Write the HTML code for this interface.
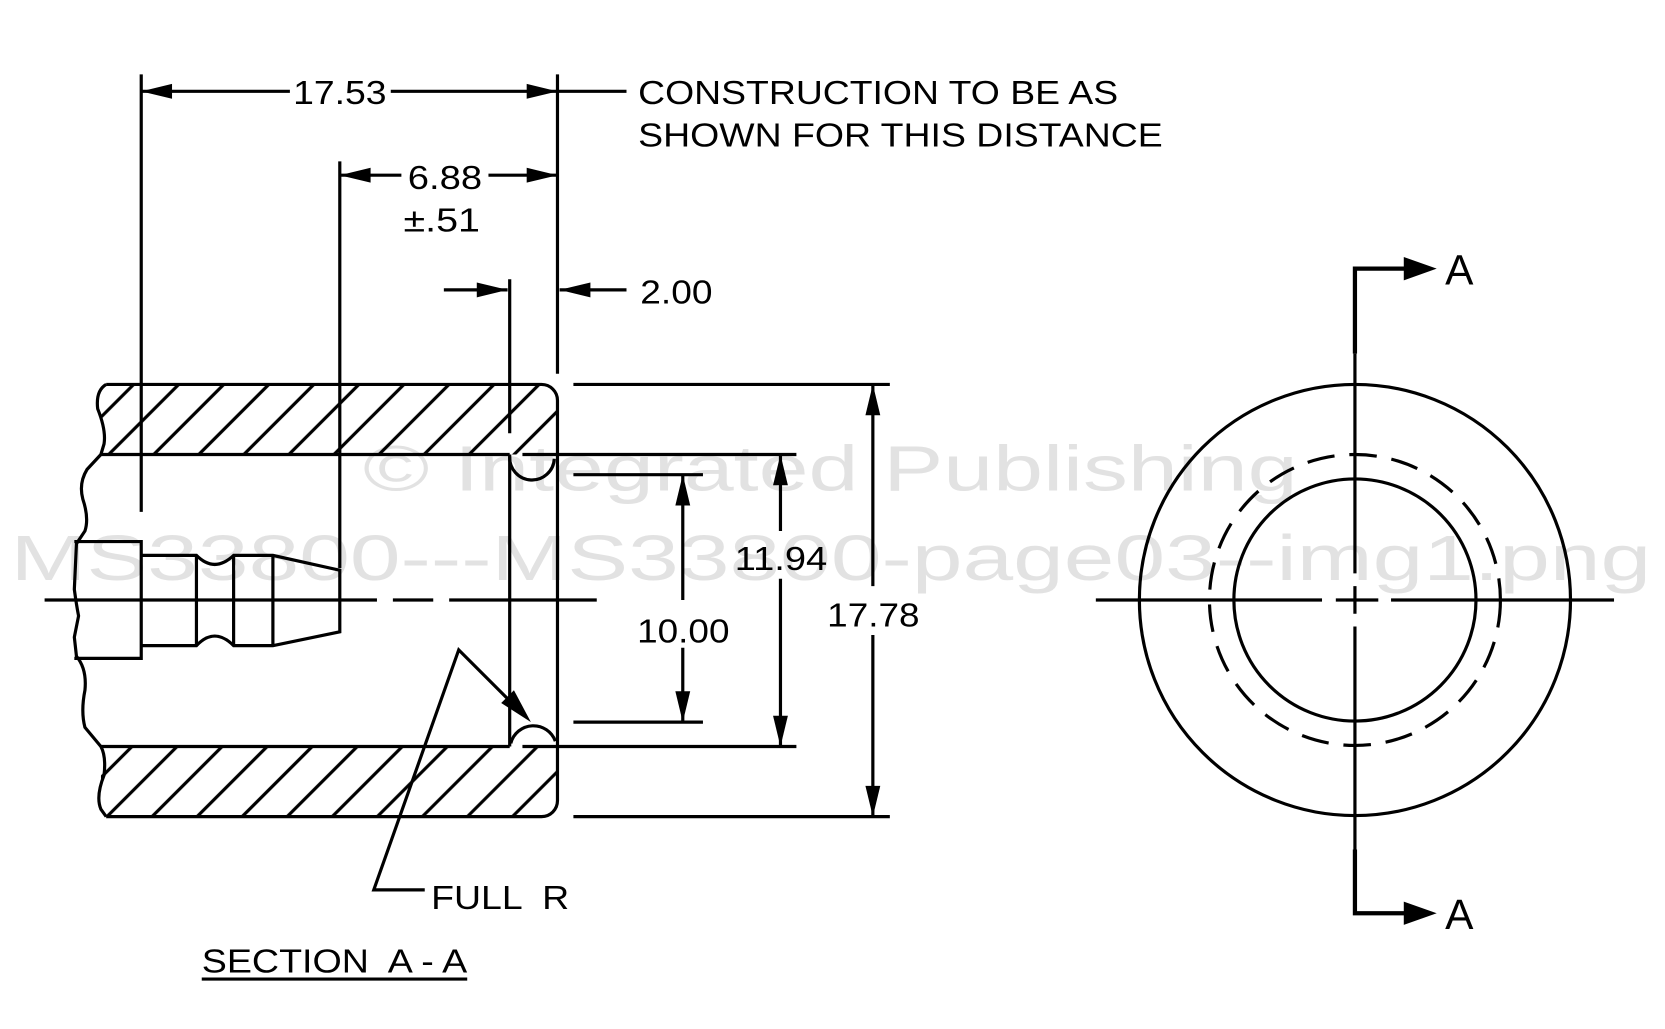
<!DOCTYPE html>
<html><head><meta charset="utf-8"><style>
html,body{margin:0;padding:0;background:#fff;}
svg{display:block;}
text{font-family:"Liberation Sans",sans-serif;}
</style></head><body>
<svg width="1665" height="1029" viewBox="0 0 1568 969" preserveAspectRatio="none" xmlns="http://www.w3.org/2000/svg">
<defs>
<pattern id="h" patternUnits="userSpaceOnUse" width="30" height="30" patternTransform="rotate(45)">
<line x1="0" y1="0" x2="0" y2="30" stroke="#000" stroke-width="3" transform="translate(15,0)"/>
</pattern>
<clipPath id="cb">
<path d="M95,362 L510,362 A15,15 0 0 1 525,377 L525,428 L95,428 Z"/>
<path d="M95,703 L525,703 L525,754 A15,15 0 0 1 510,769 L95,769 Z"/>
</clipPath>
</defs>
<!-- watermark -->
<g fill="#e2e2e2">
<text x="342" y="462" font-size="60" textLength="880" lengthAdjust="spacingAndGlyphs">© Integrated Publishing</text>
<text x="10" y="546" font-size="60" textLength="1545" lengthAdjust="spacingAndGlyphs">MS33800---MS33800-page03--img1.png</text>
</g>
<!-- hatch -->
<rect x="80" y="355" width="460" height="420" fill="url(#h)" clip-path="url(#cb)"/>
<g fill="none" stroke="#000" stroke-width="3">
<!-- body outline -->
<path d="M100,362 L510,362 A15,15 0 0 1 525,377 L525,754 A15,15 0 0 1 510,769 L100,769"/>
<path d="M100,362 Q90,368 92,385 Q100,405 98,418 L95,428 L82,442 Q74,455 78,470 Q84,488 80,500 L72,512 L70,555 Q72,570 74,580 L70,600 L72,618 Q82,630 80,650 Q76,670 80,685 L95,703 Q100,712 98,730 Q90,750 95,762 L100,769"/>
<line x1="95" y1="428" x2="480" y2="428"/>
<line x1="95" y1="703" x2="480" y2="703"/>
<line x1="480" y1="428" x2="480" y2="703"/>
<path d="M480,430 A21,21 0 0 0 522,432" />
<path d="M481,700 A22,22 0 0 1 523,698" />
<!-- pin -->
<path d="M70,510 L133,510 L133,620 L70,620"/>
<path d="M133,523 L185,523 Q202,540 220,523 L257,523 L320,537 L320,595 L257,608 L220,608 Q202,590 185,608 L133,608"/>
<line x1="185" y1="523" x2="185" y2="608"/>
<line x1="220" y1="523" x2="220" y2="608"/>
<line x1="257" y1="523" x2="257" y2="608"/>
<!-- centerline -->
<path d="M42,565 L355,565 M370,565 L408,565 M423,565 L562,565"/>
<!-- extension lines -->
<line x1="133" y1="70" x2="133" y2="482"/>
<line x1="525" y1="70" x2="525" y2="352"/>
<line x1="320" y1="152" x2="320" y2="535"/>
<line x1="480" y1="263" x2="480" y2="408"/>
<line x1="540" y1="362" x2="838" y2="362"/>
<line x1="540" y1="769" x2="838" y2="769"/>
<line x1="492" y1="428" x2="750" y2="428"/>
<line x1="492" y1="703" x2="750" y2="703"/>
<line x1="540" y1="447" x2="662" y2="447"/>
<line x1="540" y1="680" x2="662" y2="680"/>
<!-- dim lines -->
<path d="M133,86 L273,86 M368,86 L590,86"/>
<path d="M320,165 L378,165 M460,165 L525,165"/>
<line x1="418" y1="273" x2="478" y2="273"/>
<line x1="527" y1="273" x2="590" y2="273"/>
<path d="M643,447 L643,565 M643,610 L643,680"/>
<path d="M735,428 L735,500 M735,545 L735,703"/>
<path d="M822,362 L822,552 M822,598 L822,769"/>
<!-- leader -->
<path d="M400,838 L352,838 L432,612 L492,672"/>
<line x1="190" y1="922" x2="440" y2="922"/>
<!-- end view -->
<circle cx="1276" cy="565" r="203"/>
<circle cx="1276" cy="565" r="114"/>
<circle cx="1276" cy="565" r="137" stroke-dasharray="26,14"/>
<path d="M1032,565 L1245,565 M1258,565 L1298,565 M1310,565 L1520,565"/>
<path d="M1276,333 L1276,540 M1276,552 L1276,578 M1276,590 L1276,800"/>
<path d="M1276,333 L1276,253 L1330,253 M1276,800 L1276,860 L1330,860" stroke-width="4"/>
</g>
<!-- arrowheads -->
<g fill="#000">
<polygon points="133,86 162,79 162,93"/>
<polygon points="525,86 496,79 496,93"/>
<polygon points="320,165 349,158 349,172"/>
<polygon points="525,165 496,158 496,172"/>
<polygon points="478,273 449,266 449,280"/>
<polygon points="527,273 556,266 556,280"/>
<polygon points="643,447 636,476 650,476"/>
<polygon points="643,680 636,651 650,651"/>
<polygon points="735,428 728,457 742,457"/>
<polygon points="735,703 728,674 742,674"/>
<polygon points="822,362 815,391 829,391"/>
<polygon points="822,769 815,740 829,740"/>
<polygon points="500,680 472,662 484,650"/>
<polygon points="1353,253 1322,242 1322,264"/>
<polygon points="1353,860 1322,849 1322,871"/>
</g>
<g fill="#000" font-size="31">
<text x="276" y="98" textLength="88" lengthAdjust="spacingAndGlyphs">17.53</text>
<text x="601" y="98" textLength="452" lengthAdjust="spacingAndGlyphs">CONSTRUCTION TO BE AS</text>
<text x="601" y="138" textLength="494" lengthAdjust="spacingAndGlyphs">SHOWN FOR THIS DISTANCE</text>
<text x="384" y="178" textLength="70" lengthAdjust="spacingAndGlyphs">6.88</text>
<text x="380" y="218" textLength="72" lengthAdjust="spacingAndGlyphs">±.51</text>
<text x="603" y="286" textLength="68" lengthAdjust="spacingAndGlyphs">2.00</text>
<text x="600" y="605" textLength="87" lengthAdjust="spacingAndGlyphs">10.00</text>
<text x="692" y="537" textLength="87" lengthAdjust="spacingAndGlyphs">11.94</text>
<text x="779" y="590" textLength="87" lengthAdjust="spacingAndGlyphs">17.78</text>
<text x="406" y="856" textLength="130" lengthAdjust="spacingAndGlyphs" xml:space="preserve">FULL  R</text>
<text x="190" y="916" textLength="250" lengthAdjust="spacingAndGlyphs" xml:space="preserve">SECTION  A - A</text>
<text x="1361" y="268" font-size="40">A</text>
<text x="1361" y="875" font-size="40">A</text>
</g>
</svg>
</body></html>
